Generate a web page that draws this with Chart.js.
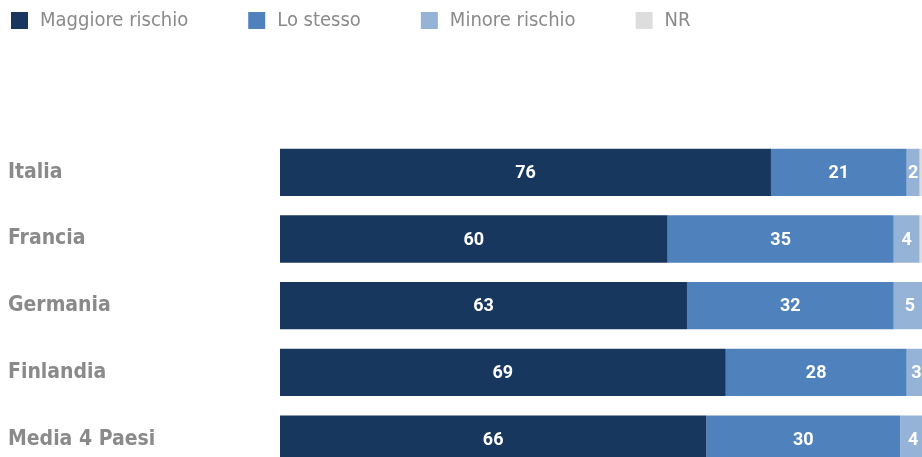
<!DOCTYPE html>
<html>
<head>
<meta charset="utf-8">
<script src="https://cdn.jsdelivr.net/npm/chart.js@4.4.1/dist/chart.umd.min.js"></script>
<style>
  html, body { margin: 0; padding: 0; background: #fff; overflow: hidden; }
  #wrap { width: 940px; height: 488px; }
  canvas { display: block; }
</style>
</head>
<body>
<div id="wrap"><canvas id="riskChart" width="940" height="488"></canvas></div>
<script>
// Risposte per paese (%)
const paesi = ['Italia', 'Francia', 'Germania', 'Finlandia', 'Media 4 Paesi'];
const maggioreRischio = [76, 60, 63, 69, 66];
const loStesso = [21, 35, 32, 28, 30];
const minoreRischio = [2, 4, 5, 3, 4];
const nonRisponde = [1, 1, 0, 0, 0];

const narrow = '"Liberation Sans Narrow", "DejaVu Sans Condensed", sans-serif';

// white numbers in the middle of each segment
const valueLabels = {
  id: 'valueLabels',
  afterDatasetsDraw(chart) {
    const ctx = chart.ctx;
    ctx.save();
    ctx.fillStyle = '#fff';
    ctx.font = 'bold 18px Roboto, sans-serif';
    ctx.textAlign = 'center';
    ctx.textBaseline = 'middle';
    chart.data.datasets.forEach((ds, i) => {
      if (ds.noLabels) return;
      chart.getDatasetMeta(i).data.forEach((bar, j) => {
        const v = ds.data[j];
        if (!v) return;
        const c = bar.getCenterPoint();
        ctx.fillText(v, c.x, c.y + 1);
      });
    });
    ctx.restore();
  }
};

// legend row across the top
const topLegend = {
  id: 'topLegend',
  afterDraw(chart) {
    const ctx = chart.ctx;
    ctx.save();
    ctx.font = '20px ' + narrow;
    ctx.textBaseline = 'middle';
    let x = 11;
    chart.data.datasets.forEach(ds => {
      ctx.fillStyle = ds.backgroundColor;
      ctx.fillRect(x, 12, 17, 17);
      ctx.fillStyle = '#8a8a8a';
      ctx.fillText(ds.label, x + 29, 21);
      x += 29 + ctx.measureText(ds.label).width + 60;
    });
    ctx.restore();
  }
};

new Chart(document.getElementById('riskChart'), {
  type: 'bar',
  data: {
    labels: paesi,
    datasets: [
      { label: 'Maggiore rischio', data: maggioreRischio, backgroundColor: '#17375e' },
      { label: 'Lo stesso', data: loStesso, backgroundColor: '#4f81bd' },
      { label: 'Minore rischio', data: minoreRischio, backgroundColor: '#95b3d7' },
      { label: 'NR', data: nonRisponde, backgroundColor: '#dddddd', noLabels: true }
    ]
  },
  options: {
    indexAxis: 'y',
    responsive: false,
    animation: false,
    barPercentage: 0.71,
    categoryPercentage: 1,
    layout: { padding: { top: 139, bottom: 0, left: 8, right: 14 } },
    scales: {
      x: { stacked: true, display: false, min: 0, max: 100 },
      y: {
        stacked: true,
        grid: { display: false },
        border: { display: false },
        afterFit(scale) { scale.width = 272; },
        ticks: {
          crossAlign: 'far',
          color: '#8a8a8a',
          font: { family: narrow, size: 21, weight: 'bold' }
        }
      }
    },
    plugins: {
      legend: { display: false },
      tooltip: { enabled: false }
    }
  },
  plugins: [valueLabels, topLegend]
});
</script>
</body>
</html>
